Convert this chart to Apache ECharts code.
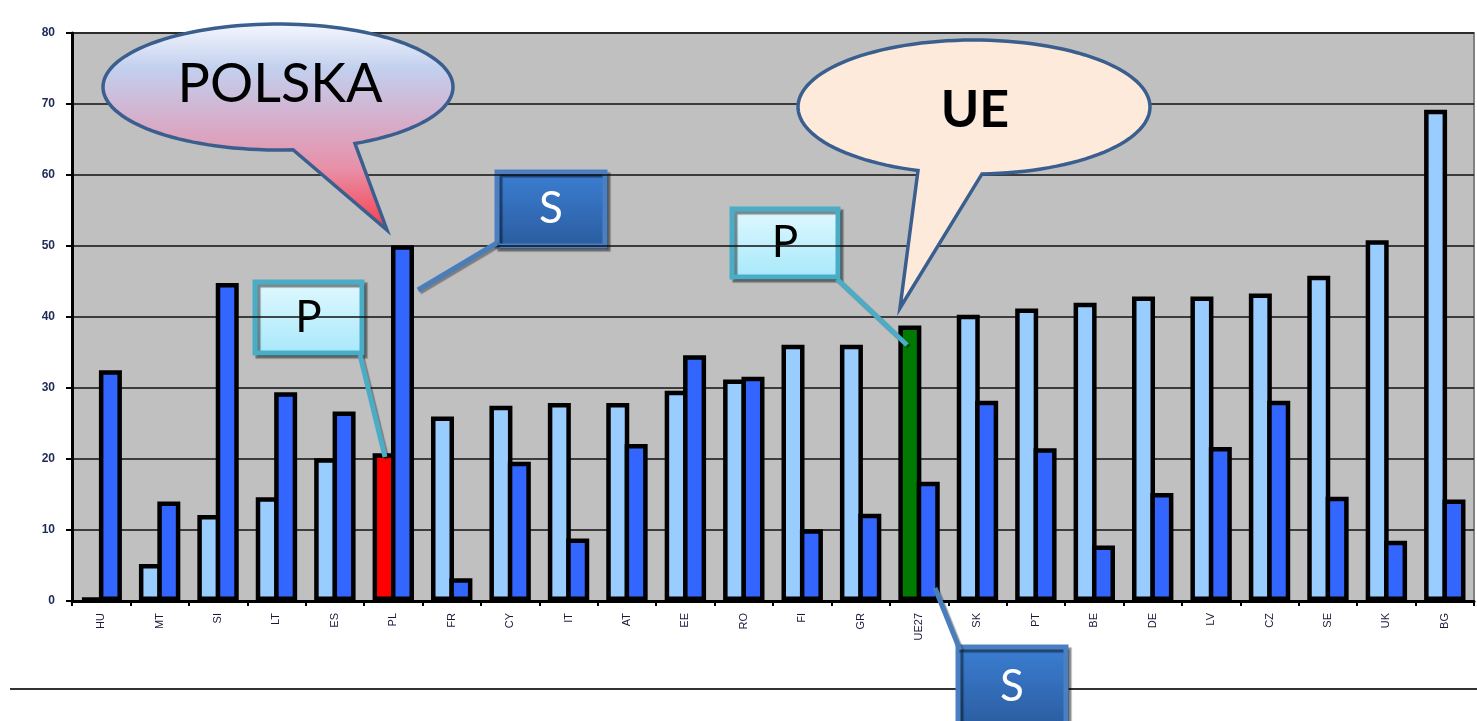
<!DOCTYPE html>
<html>
<head>
<meta charset="utf-8">
<script src="https://cdn.jsdelivr.net/npm/echarts@6/dist/echarts.min.js"></script>
<style>html,body{margin:0;padding:0;background:#fff;}#c{width:1477px;height:721px;}</style>
</head>
<body>
<div id="c"></div>
<script>
const categories = ["HU","MT","SI","LT","ES","PL","FR","CY","IT","AT","EE","RO","FI","GR","UE27","SK","PT","BE","DE","LV","CZ","SE","UK","BG"];
const seriesP = [0.4,5.2,12.1,14.6,20.1,20.8,26,27.5,27.9,27.9,29.6,31.2,36.1,36.1,38.8,40.3,41.2,42,42.9,42.9,43.3,45.8,50.8,69.2];
const seriesS = [32.5,14,44.8,29.4,26.7,50.1,3.2,19.6,8.8,22.1,34.6,31.6,10.1,12.3,16.8,28.2,21.5,7.8,15.2,21.7,28.2,14.7,8.5,14.3];
const yTicks = [0,10,20,30,40,50,60,70,80];
const highlight = {"PL":"#FF0000","UE27":"#007A00"};

const chart = echarts.init(document.getElementById('c'));
const pData = seriesP.map((v,i)=> highlight[categories[i]] ? {value:v, itemStyle:{color:highlight[categories[i]]}} : v);

// speech bubble outline: ellipse arc (long way) from right tail base to left tail base, then tip
function bubblePoints(cx,cy,rx,ry,xLeft,xRight,tip){
  const tR = Math.acos(Math.max(-1,Math.min(1,(xRight-cx)/rx)));
  const tL = Math.acos(Math.max(-1,Math.min(1,(xLeft-cx)/rx)));
  const pts = [];
  const end = tL - 2*Math.PI;
  const n = 120;
  for(let k=0;k<=n;k++){
    const t = tR + (end - tR)*k/n;
    pts.push([cx + rx*Math.cos(t), cy + ry*Math.sin(t)]);
  }
  pts.push(tip);
  return pts;
}

function box(x,y,w,h,text,fill,stroke,textColor){
  return {
    type:'group', z:100,
    children:[
      {type:'rect', shape:{x:x,y:y,width:w,height:h},
       style:{fill:fill, stroke:stroke, lineWidth:5, shadowColor:'rgba(0,0,0,0.45)', shadowOffsetX:3, shadowOffsetY:3, shadowBlur:1}},
      {type:'text', style:{text:text, x:x+w/2, y:y+h/2, align:'center', verticalAlign:'middle',
        font:'44px Lato, "Open Sans", sans-serif', fill:textColor}}
    ]
  };
}
function line(x1,y1,x2,y2,color){
  return {type:'line', z:99, shape:{x1:x1,y1:y1,x2:x2,y2:y2},
    style:{stroke:color, lineWidth:5, shadowColor:'rgba(0,0,0,0.35)', shadowOffsetX:2, shadowOffsetY:2, shadowBlur:1}};
}
const lightBoxFill = {type:'linear',x:0,y:0,x2:0,y2:1,colorStops:[{offset:0,color:'#E2F9FF'},{offset:1,color:'#A6E8FA'}]};
const darkBoxFill = {type:'linear',x:0,y:0,x2:0,y2:1,colorStops:[{offset:0,color:'#3C7FD4'},{offset:1,color:'#2A5C9E'}]};

chart.setOption({
  animation:false,
  grid:{left:72, top:33, right:3, bottom:120, show:true, backgroundColor:'#C0C0C0', borderColor:'#808080', borderWidth:2},
  xAxis:{
    type:'category', data:categories,
    axisLine:{lineStyle:{color:'#000', width:3}},
    axisTick:{show:true, length:5, lineStyle:{color:'#000', width:2}},
    axisLabel:{rotate:90, margin:12, fontSize:11, fontFamily:'"Liberation Sans", Arial, sans-serif', color:'#1A1A3A'}
  },
  yAxis:{
    type:'value', min:0, max:80, interval:10,
    axisLine:{show:true, lineStyle:{color:'#000', width:3}},
    axisTick:{show:true, inside:false, length:6, lineStyle:{color:'#000', width:2}},
    splitLine:{show:true, lineStyle:{color:'#111', width:1.5}},
    axisLabel:{margin:17, fontSize:12, fontWeight:'bold', fontFamily:'"Liberation Sans", Arial, sans-serif', color:'#1E2A55',
      formatter:(v)=> yTicks.includes(v) ? String(v) : ''}
  },
  series:[
    {name:'P', type:'bar', data:pData, barWidth:23, barGap:'-20%',
     itemStyle:{color:'#99CCFF', borderColor:'#000', borderWidth:4.5}},
    {name:'S', type:'bar', data:seriesS, barWidth:23,
     itemStyle:{color:'#3366FF', borderColor:'#000', borderWidth:4.5}}
  ],
  graphic:[
    {type:'line', shape:{x1:10,y1:689,x2:1477,y2:689}, style:{stroke:'#333', lineWidth:2}},
    // POLSKA bubble
    {type:'polygon', z:100, shape:{points:bubblePoints(278,87,175,63,293,355,[387,230])},
     style:{fill:{type:'linear',x:0,y:0,x2:0,y2:1,colorStops:[
        {offset:0,color:'#F6F8FF'},{offset:0.22,color:'#C2D0EE'},{offset:0.5,color:'#D8AAC6'},{offset:0.7,color:'#E890A8'},{offset:1,color:'#F83A48'}]},
       stroke:'#3A5F8F', lineWidth:3.5, lineJoin:'miter'}},
    {type:'text', z:101, style:{text:'POLSKA', x:280, y:85, align:'center', verticalAlign:'middle',
       font:'54px Lato, "Open Sans", sans-serif', fill:'#000'}},
    // UE bubble
    {type:'polygon', z:100, shape:{points:bubblePoints(974,107,176,67,918,982,[900,308])},
     style:{fill:'#FDEADA', stroke:'#3A5F8F', lineWidth:3.5, lineJoin:'miter'}},
    {type:'text', z:101, style:{text:'UE', x:975, y:110, align:'center', verticalAlign:'middle',
       font:'bold 52px Lato, "Open Sans", sans-serif', fill:'#000'}},
    // connectors
    line(497,243,418,290,'#4A7EBB'),
    line(360,355,385,457,'#4BACC6'),
    line(837,279,907,345,'#4BACC6'),
    line(935,588,960,650,'#4A7EBB'),
    // boxes
    box(497,172,108,74,'S',darkBoxFill,'#4A80C2','#FFFFFF'),
    box(255,282,107,71,'P',lightBoxFill,'#4BACC6','#000000'),
    box(732,209,106,68,'P',lightBoxFill,'#4BACC6','#000000'),
    box(958,647,108,80,'S',darkBoxFill,'#4A80C2','#FFFFFF')
  ]
});
</script>
</body>
</html>
